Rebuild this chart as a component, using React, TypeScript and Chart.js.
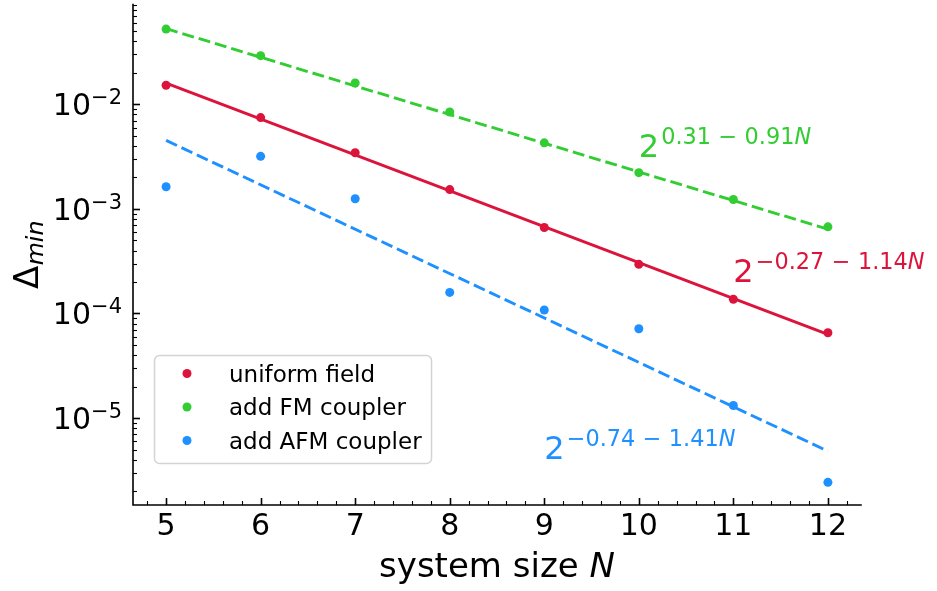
import React, { useEffect, useRef } from 'react';
import { Chart, registerables } from 'chart.js';

Chart.register(...registerables);

// System sizes on the x axis
const systemSizes = [5, 6, 7, 8, 9, 10, 11, 12];

// Minimum gap Δ_min for each driving scheme
const uniformField = [0.0152, 0.00746, 0.00344, 0.00153, 0.000664, 0.000295, 0.000137, 0.0000655];
const fmCoupler = [0.0524, 0.0292, 0.016, 0.00845, 0.00428, 0.00222, 0.00123, 0.000674];
const afmCoupler = [0.00163, 0.00318, 0.00125, 0.000159, 0.000108, 0.0000714, 0.0000132, 0.00000243];

// Exponential fits Δ = 2^(a + b·N): [a, b]
const fitUniform = [-0.27, -1.14];
const fitFM = [0.31, -0.91];
const fitAFM = [-0.74, -1.41];

const seriesLabels = ['uniform field', 'add FM coupler', 'add AFM coupler'];
const seriesColors = ['#DC143C', '#32CD32', '#1E90FF'];

// Axis ticks
const xTickValues = [5, 6, 7, 8, 9, 10, 11, 12];
const yDecades = [-2, -3, -4, -5];

const FONT = '"DejaVu Sans", sans-serif';

type Run = { text: string; size: number; italic?: boolean; dy?: number; gap?: number };

function runWidth(ctx: CanvasRenderingContext2D, runs: Run[]) {
  let w = 0;
  for (const r of runs) {
    ctx.font = `${r.italic ? 'italic ' : ''}${r.size}px ${FONT}`;
    w += (r.gap || 0) + ctx.measureText(r.text).width;
  }
  return w;
}

function drawRuns(ctx: CanvasRenderingContext2D, x: number, y: number, runs: Run[]) {
  let cx = x;
  for (const r of runs) {
    ctx.font = `${r.italic ? 'italic ' : ''}${r.size}px ${FONT}`;
    cx += r.gap || 0;
    ctx.fillText(r.text, cx, y + (r.dy || 0));
    cx += ctx.measureText(r.text).width;
  }
}

function fitLabelRuns(fit: number[]): Run[] {
  const base = 32;
  const sup = 22.4;
  const raise = -13;
  const a = fit[0];
  const b = fit[1];
  const aText = (a < 0 ? '\u2212' : '') + Math.abs(a).toFixed(2);
  const bText = Math.abs(b).toFixed(2);
  const sep = sup * 0.33;
  return [
    { text: '2', size: base },
    { text: aText, size: sup, dy: raise, gap: 2 },
    { text: b < 0 ? '\u2212' : '+', size: sup, dy: raise, gap: sep },
    { text: bText, size: sup, dy: raise, gap: sep },
    { text: 'N', size: sup, dy: raise, italic: true },
  ];
}

// Where each fit formula is written, in data coordinates (left, baseline)
const fitLabelAnchors = [
  { fit: fitFM, color: seriesColors[1], x: 10, y: 3.15e-3 },
  { fit: fitUniform, color: seriesColors[0], x: 11, y: 2.02e-4 },
  { fit: fitAFM, color: seriesColors[2], x: 9, y: 4.05e-6 },
];

const axisDecor = {
  id: 'axisDecor',
  afterDraw(chart: any) {
    const { ctx, chartArea: a, scales } = chart;
    const xs = scales.x;
    const ys = scales.y;
    ctx.save();
    ctx.strokeStyle = '#000';
    ctx.fillStyle = '#000';

    // spines
    ctx.lineWidth = 1.6;
    ctx.lineCap = 'square';
    ctx.beginPath();
    ctx.moveTo(a.left, a.top);
    ctx.lineTo(a.left, a.bottom);
    ctx.lineTo(a.right, a.bottom);
    ctx.stroke();
    ctx.lineCap = 'butt';

    // x ticks (inward)
    for (const v of xTickValues) {
      const px = Math.round(xs.getPixelForValue(v)) + 0.5;
      ctx.lineWidth = 1.6;
      ctx.beginPath();
      ctx.moveTo(px, a.bottom);
      ctx.lineTo(px, a.bottom - 7);
      ctx.stroke();
    }
    for (let k = 4; k <= 12; k++) {
      for (let j = 1; j <= 4; j++) {
        const v = k + j * 0.2;
        if (v < xs.min || v > xs.max) continue;
        const px = Math.round(xs.getPixelForValue(v)) + 0.5;
        ctx.lineWidth = 1.1;
        ctx.beginPath();
        ctx.moveTo(px, a.bottom);
        ctx.lineTo(px, a.bottom - 4);
        ctx.stroke();
      }
    }

    // y ticks (inward)
    for (const d of yDecades) {
      const py = Math.round(ys.getPixelForValue(Math.pow(10, d))) + 0.5;
      ctx.lineWidth = 1.6;
      ctx.beginPath();
      ctx.moveTo(a.left, py);
      ctx.lineTo(a.left + 7, py);
      ctx.stroke();
    }
    for (let d = -7; d <= -1; d++) {
      for (let m = 2; m <= 9; m++) {
        const v = m * Math.pow(10, d);
        if (v < ys.min || v > ys.max) continue;
        const py = Math.round(ys.getPixelForValue(v)) + 0.5;
        ctx.lineWidth = 1.1;
        ctx.beginPath();
        ctx.moveTo(a.left, py);
        ctx.lineTo(a.left + 4, py);
        ctx.stroke();
      }
    }

    // x tick labels
    ctx.textAlign = 'center';
    ctx.textBaseline = 'alphabetic';
    ctx.font = `30px ${FONT}`;
    for (const v of xTickValues) {
      ctx.fillText(String(v), xs.getPixelForValue(v), a.bottom + 30);
    }

    // y tick labels: 10^d
    ctx.textAlign = 'left';
    for (const d of yDecades) {
      const py = ys.getPixelForValue(Math.pow(10, d));
      const runs: Run[] = [
        { text: '10', size: 30 },
        { text: '\u2212' + Math.abs(d), size: 21, dy: -11 },
      ];
      const w = runWidth(ctx, runs);
      drawRuns(ctx, a.left - 11 - w, py + 11, runs);
    }

    // x axis title
    const xRuns: Run[] = [
      { text: 'system size ', size: 34 },
      { text: 'N', size: 34, italic: true },
    ];
    const xw = runWidth(ctx, xRuns);
    drawRuns(ctx, (a.left + a.right) / 2 - xw / 2, a.bottom + 72, xRuns);

    // y axis title: Δ_min
    const yRuns: Run[] = [
      { text: '\u0394', size: 34 },
      { text: 'min', size: 23.8, italic: true, dy: 5, gap: 0.5 },
    ];
    const yw = runWidth(ctx, yRuns);
    ctx.save();
    ctx.translate(38, (a.top + a.bottom) / 2);
    ctx.rotate(-Math.PI / 2);
    drawRuns(ctx, -yw / 2, 0, yRuns);
    ctx.restore();

    // fit formulas
    for (const lab of fitLabelAnchors) {
      ctx.fillStyle = lab.color;
      drawRuns(ctx, xs.getPixelForValue(lab.x), ys.getPixelForValue(lab.y), fitLabelRuns(lab.fit));
    }

    // legend
    const lx = a.left + 21;
    const ly = a.bottom - 150;
    const lw = 277;
    const lh = 108;
    ctx.beginPath();
    ctx.roundRect(lx + 0.5, ly + 0.5, lw, lh, 5);
    ctx.fillStyle = 'rgba(255,255,255,0.8)';
    ctx.fill();
    ctx.strokeStyle = '#d4d4d4';
    ctx.lineWidth = 1.5;
    ctx.stroke();
    ctx.font = `23px ${FONT}`;
    ctx.textAlign = 'left';
    const ds = chart.data.datasets.filter((d: any) => d.label);
    ds.forEach((d: any, i: number) => {
      const cy = ly + 18.5 + i * 33.5;
      ctx.fillStyle = d.backgroundColor;
      ctx.beginPath();
      ctx.arc(lx + 33, cy, 4.5, 0, Math.PI * 2);
      ctx.fill();
      ctx.fillStyle = '#000';
      ctx.fillText(d.label, lx + 75, cy + 8);
    });

    ctx.restore();
  },
};

function fitLine(fit: number[]) {
  const ends = [systemSizes[0], systemSizes[systemSizes.length - 1]];
  return ends.map((n) => ({ x: n, y: Math.pow(2, fit[0] + fit[1] * n) }));
}

function points(values: number[]) {
  return systemSizes.map((n, i) => ({ x: n, y: values[i] }));
}

export default function App() {
  const canvasRef = useRef<HTMLCanvasElement | null>(null);

  useEffect(() => {
    const canvas = canvasRef.current;
    if (!canvas) return;
    const series = [uniformField, fmCoupler, afmCoupler];
    const fits = [fitUniform, fitFM, fitAFM];
    const scatterSets = series.map((vals, i) => ({
      type: 'scatter' as const,
      label: seriesLabels[i],
      data: points(vals),
      backgroundColor: seriesColors[i],
      borderWidth: 0,
      pointRadius: 4.5,
      showLine: false,
    }));
    const lineSets = fits.map((f, i) => ({
      type: 'line' as const,
      data: fitLine(f),
      borderColor: seriesColors[i],
      borderWidth: 2.9,
      borderDash: i === 0 ? [] : [12, 5],
      pointRadius: 0,
      fill: false,
      tension: 0,
    }));

    const chart = new Chart(canvas, {
      type: 'scatter',
      data: { datasets: [...scatterSets, ...lineSets] as any },
      options: {
        animation: false,
        responsive: false,
        devicePixelRatio: 1,
        events: [],
        layout: { padding: { left: 133, right: 76, top: 2, bottom: 86 } },
        plugins: { legend: { display: false }, tooltip: { enabled: false } },
        scales: {
          x: { type: 'linear', display: false, min: 4.65, max: 12.35, bounds: 'data' },
          y: { type: 'logarithmic', display: false, min: 1.476e-6, max: 0.09, bounds: 'data' },
        },
      },
      plugins: [axisDecor],
    });
    return () => chart.destroy();
  }, []);

  return (
    <div style={{ position: 'absolute', left: 0, top: 0, width: 937, height: 591, background: '#fff' }}>
      <canvas ref={canvasRef} width={937} height={591} />
    </div>
  );
}
